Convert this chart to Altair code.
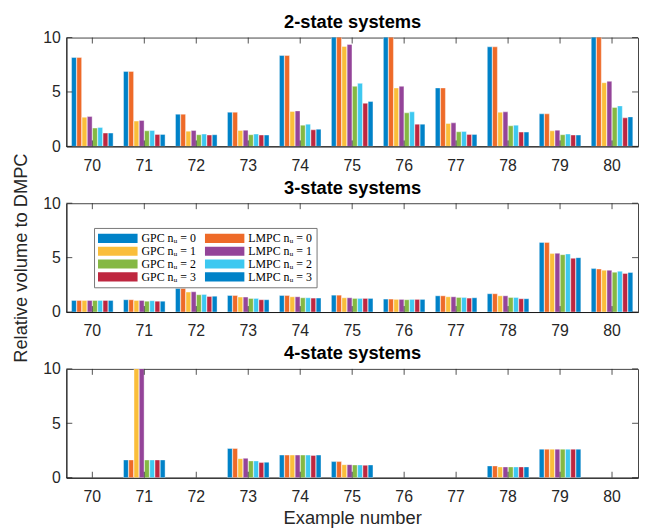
import altair as alt
import pandas as pd

examples = [70, 71, 72, 73, 74, 75, 76, 77, 78, 79, 80]
series = ["GPC nᵤ = 0", "LMPC nᵤ = 0", "GPC nᵤ = 1", "LMPC nᵤ = 1",
          "GPC nᵤ = 2", "LMPC nᵤ = 2", "GPC nᵤ = 3", "LMPC nᵤ = 3"]
colors = ["#0082C8", "#EE6A28", "#FABE3A", "#944499",
          "#85B844", "#3DC8F0", "#BE2740", "#0082C8"]
y_ticks = [0, 5, 10]

# 2-state systems (values above 10 are clipped at the top of the axis)
s2_gpc0 = [8.17, 6.89, 2.96, 3.14, 8.35, 12, 12, 5.37, 9.15, 2.99, 12]
s2_lmpc0 = [8.17, 6.89, 2.96, 3.14, 8.35, 12, 12, 5.37, 9.15, 2.99, 12]
s2_gpc1 = [2.68, 2.32, 1.40, 1.46, 3.20, 9.18, 5.37, 2.10, 3.14, 1.43, 5.85]
s2_lmpc1 = [2.74, 2.38, 1.46, 1.49, 3.26, 9.36, 5.52, 2.16, 3.17, 1.49, 5.98]
s2_gpc2 = [1.68, 1.43, 1.07, 1.07, 1.95, 5.52, 3.08, 1.34, 1.89, 1.07, 3.57]
s2_lmpc2 = [1.74, 1.46, 1.13, 1.13, 2.04, 5.79, 3.17, 1.37, 1.95, 1.13, 3.72]
s2_gpc3 = [1.22, 1.10, 1.04, 1.04, 1.52, 3.96, 2.04, 1.10, 1.31, 1.04, 2.62]
s2_lmpc3 = [1.22, 1.10, 1.07, 1.04, 1.58, 4.12, 2.04, 1.10, 1.31, 1.04, 2.71]

# 3-state systems
s3_gpc0 = [1.07, 1.13, 2.16, 1.52, 1.52, 1.55, 1.19, 1.49, 1.68, 6.40, 3.99]
s3_lmpc0 = [1.07, 1.13, 2.16, 1.52, 1.52, 1.55, 1.19, 1.49, 1.68, 6.40, 3.96]
s3_gpc1 = [1.07, 1.07, 1.83, 1.37, 1.40, 1.31, 1.16, 1.40, 1.49, 5.37, 3.84]
s3_lmpc1 = [1.07, 1.07, 1.86, 1.37, 1.40, 1.31, 1.16, 1.40, 1.49, 5.40, 3.84]
s3_gpc2 = [1.07, 1.00, 1.59, 1.25, 1.31, 1.25, 1.13, 1.34, 1.34, 5.27, 3.66]
s3_lmpc2 = [1.07, 1.04, 1.62, 1.25, 1.31, 1.25, 1.16, 1.34, 1.34, 5.34, 3.75]
s3_gpc3 = [1.07, 1.00, 1.43, 1.13, 1.28, 1.25, 1.16, 1.28, 1.22, 4.94, 3.54]
s3_lmpc3 = [1.07, 1.00, 1.46, 1.13, 1.28, 1.25, 1.16, 1.31, 1.22, 5.00, 3.63]

# 4-state systems (None = no result)
s4_gpc0 = [None, 1.63, None, 2.68, 2.08, 1.48, None, None, 1.08, 2.62, None]
s4_lmpc0 = [None, 1.63, None, 2.68, 2.08, 1.48, None, None, 1.08, 2.62, None]
s4_gpc1 = [None, 12, None, 1.75, 2.08, 1.20, None, None, 0.99, 2.62, None]
s4_lmpc1 = [None, 12, None, 1.78, 2.08, 1.20, None, None, 0.99, 2.62, None]
s4_gpc2 = [None, 1.63, None, 1.54, 2.08, 1.17, None, None, 0.99, 2.62, None]
s4_lmpc2 = [None, 1.63, None, 1.54, 2.08, 1.17, None, None, 0.99, 2.62, None]
s4_gpc3 = [None, 1.63, None, 1.39, 2.05, 1.14, None, None, 0.99, 2.62, None]
s4_lmpc3 = [None, 1.63, None, 1.42, 2.08, 1.17, None, None, 0.99, 2.62, None]

W, H = 578, 110
TL = 6  # inner tick length

# legend is filled column by column: GPC entries left, LMPC entries right
legend_order = series[0::2] + series[1::2]
legend_colors = colors[0::2] + colors[1::2]

x_scale = alt.Scale(domain=examples, paddingInner=0.2, paddingOuter=0.1)
y_scale = alt.Scale(domain=[0, 10], nice=False)


def make_df(lists):
    rows = []
    for s, vals in zip(series, lists):
        for e, v in zip(examples, vals):
            if v is not None:
                rows.append({"example": e, "series": s, "value": v})
    return pd.DataFrame(rows)


def panel(lists, title, legend=None, ytitle=None, xtitle=None):
    df = make_df(lists)
    x_bottom = alt.X("example:O", scale=x_scale,
                     axis=alt.Axis(orient="bottom", labelAngle=0, ticks=False, labelPadding=11,
                                   titlePadding=4, domainColor="#1a1a1a", domainWidth=1),
                     title=xtitle)
    x_top = alt.X("example:O", scale=x_scale,
                  axis=alt.Axis(orient="top", labels=False, ticks=False, domain=False,
                                titleFont="Liberation Sans", titleFontSize=18.5,
                                titleFontWeight="bold", titleColor="#000000", titlePadding=6),
                  title=title)
    x_plain = alt.X("example:O", scale=x_scale, axis=None)
    y_enc = alt.Y("value:Q", scale=y_scale,
                  axis=alt.Axis(values=y_ticks, ticks=False, labelPadding=6, titlePadding=12,
                                domainColor="#1a1a1a", domainWidth=1),
                  title=ytitle)
    color_enc = alt.Color("series:N", scale=alt.Scale(domain=legend_order, range=legend_colors),
                          legend=legend)
    bars = alt.Chart(df).mark_bar(clip=True, stroke="white", strokeWidth=0.4).encode(
        x=x_bottom,
        xOffset=alt.XOffset("series:N", scale=alt.Scale(domain=series, paddingInner=0.08), sort=series),
        y=y_enc,
        color=color_enc,
    )
    xt = pd.DataFrame({"example": examples})
    yt = pd.DataFrame({"value": y_ticks})
    top_ticks = alt.Chart(xt).mark_rule(color="#262626", strokeWidth=0.8).encode(
        x=x_top, y=alt.value(0), y2=alt.value(TL))
    bot_ticks = alt.Chart(xt).mark_rule(color="#262626", strokeWidth=0.8).encode(
        x=x_plain, y=alt.value(H), y2=alt.value(H - TL))
    left_ticks = alt.Chart(yt).mark_rule(color="#262626", strokeWidth=0.8).encode(
        y=y_enc, x=alt.value(0), x2=alt.value(TL))
    right_ticks = alt.Chart(yt).mark_rule(color="#262626", strokeWidth=0.8).encode(
        y=y_enc, x=alt.value(W - TL), x2=alt.value(W))
    return alt.layer(bars, top_ticks, bot_ticks, left_ticks, right_ticks).resolve_axis(
        x="independent"
    ).properties(width=W, height=H)


legend = alt.Legend(orient="none", legendX=28, legendY=25, columns=2, title=None,
                    symbolType="M-1,-0.23H1V0.23H-1Z", symbolSize=1600, symbolStrokeWidth=0,
                    clipHeight=13, labelFont="Liberation Serif", labelFontSize=12,
                    labelColor="#000000", columnPadding=8, rowPadding=0, padding=4,
                    strokeColor="#777777", fillColor="white", labelOffset=4, symbolOpacity=1)

p2 = panel([s2_gpc0, s2_lmpc0, s2_gpc1, s2_lmpc1, s2_gpc2, s2_lmpc2, s2_gpc3, s2_lmpc3],
           "2-state systems")
p3 = panel([s3_gpc0, s3_lmpc0, s3_gpc1, s3_lmpc1, s3_gpc2, s3_lmpc2, s3_gpc3, s3_lmpc3],
           "3-state systems", legend=legend, ytitle="Relative volume to DMPC")
p4 = panel([s4_gpc0, s4_lmpc0, s4_gpc1, s4_lmpc1, s4_gpc2, s4_lmpc2, s4_gpc3, s4_lmpc3],
           "4-state systems", xtitle="Example number")

chart = alt.vconcat(p2, p3, p4, spacing=57.5, bounds="flush").resolve_scale(
    color="independent"
).properties(
    padding={"top": 1, "left": 3, "right": 0, "bottom": 0}
).configure_view(
    stroke="#444444", strokeWidth=1
).configure_axis(
    labelFont="Liberation Sans", labelFontSize=16, labelColor="#262626",
    titleFont="Liberation Sans", titleFontSize=18.5, titleFontWeight="normal", titleColor="#262626",
    grid=False,
)

chart.save("out.html", embed_options={"renderer": "svg", "actions": False})
